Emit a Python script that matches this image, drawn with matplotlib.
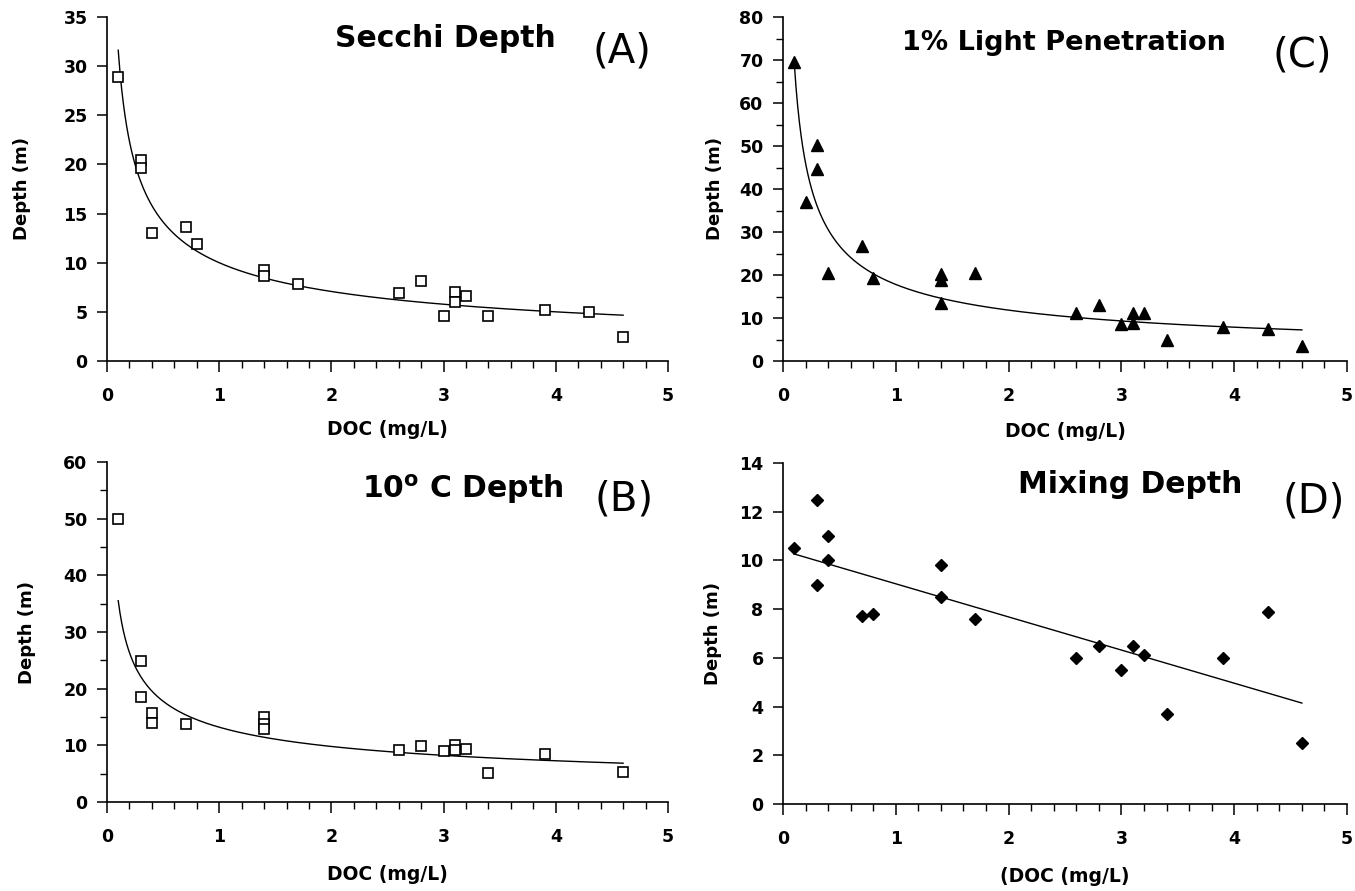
import numpy as np
import matplotlib.pyplot as plt
from matplotlib.ticker import MultipleLocator

plt.rcParams['font.family'] = ['DejaVu Sans']

# DOC (mg/L) for each lake and the measured depths (m)
doc_secchi = [0.1, 0.3, 0.3, 0.4, 0.7, 0.8, 1.4, 1.4, 1.7, 2.6, 2.8, 3.0, 3.1, 3.1, 3.2, 3.4, 3.9, 4.3, 4.6]
secchi = [28.9, 20.5, 19.6, 13.0, 13.6, 11.9, 9.3, 8.6, 7.8, 6.9, 8.1, 4.6, 7.0, 6.0, 6.6, 4.55, 5.2, 5.0, 2.45]

doc_light = [0.1, 0.2, 0.3, 0.3, 0.4, 0.7, 0.8, 1.4, 1.4, 1.4, 1.7, 2.6, 2.8, 3.0, 3.1, 3.1, 3.2, 3.4, 3.9, 4.3, 4.6]
light = [69.5, 37.0, 50.2, 44.6, 20.4, 26.7, 19.4, 20.2, 18.8, 13.6, 20.5, 11.1, 13.1, 8.5, 11.1, 8.9, 11.1, 4.9, 7.8, 7.4, 3.5]

doc_temp = [0.1, 0.3, 0.3, 0.4, 0.4, 0.7, 1.4, 1.4, 1.4, 2.6, 2.8, 3.0, 3.1, 3.1, 3.2, 3.4, 3.9, 4.6]
temp10 = [50.0, 24.9, 18.6, 15.7, 14.0, 13.7, 15.0, 13.8, 12.9, 9.2, 9.8, 9.0, 10.1, 9.2, 9.4, 5.2, 8.5, 5.3]

doc_mix = [0.1, 0.3, 0.3, 0.4, 0.4, 0.7, 0.8, 1.4, 1.4, 1.7, 2.6, 2.8, 3.0, 3.1, 3.2, 3.4, 3.9, 4.3, 4.6]
mixing = [10.5, 12.5, 9.0, 11.0, 10.0, 7.7, 7.8, 9.8, 8.5, 7.6, 6.0, 6.5, 5.5, 6.5, 6.1, 3.7, 6.0, 7.9, 2.5]

# trendline coefficients: power fits y = a * x**b, linear fit y = m*x + c
secchi_fit = (10.0, -0.50)
light_fit = (17.8, -0.59)
temp_fit = (13.2, -0.43)
mix_fit = (-1.36, 10.4)
fit_range = (0.1, 4.6)

W, H = 1355, 891


def box(left, top, right, bottom):
    return [left / W, 1 - bottom / H, (right - left) / W, (bottom - top) / H]


def style_axes(ax, ymax, ystep, yminor, ylab_x, xlab_y, xlabel='DOC (mg/L)'):
    ax.set_xlim(0, 5)
    ax.set_ylim(0, ymax)
    for side in ('top', 'right'):
        ax.spines[side].set_visible(False)
    for side in ('left', 'bottom'):
        ax.spines[side].set_linewidth(1.2)
    ax.xaxis.set_major_locator(MultipleLocator(1))
    ax.xaxis.set_minor_locator(MultipleLocator(0.2))
    ax.yaxis.set_major_locator(MultipleLocator(ystep))
    if yminor:
        ax.yaxis.set_minor_locator(MultipleLocator(yminor))
    ax.tick_params(axis='x', which='major', direction='out', length=8, width=1.1, pad=11, labelsize=12.5)
    ax.tick_params(axis='x', which='minor', direction='out', length=5, width=1)
    ax.tick_params(axis='y', which='major', direction='out', length=7, width=1.1, pad=7, labelsize=12.5)
    ax.tick_params(axis='y', which='minor', direction='out', length=5, width=1)
    for lab in ax.get_xticklabels() + ax.get_yticklabels():
        lab.set_fontweight('bold')
    ax.set_ylabel('Depth (m)', fontsize=13, fontweight='bold')
    ax.yaxis.set_label_coords(ylab_x, 0.5)
    ax.set_xlabel(xlabel, fontsize=13.5, fontweight='bold')
    ax.xaxis.set_label_coords(0.5, xlab_y)


def titles(fig, name, name_x, name_y, name_size, letter, letter_x, letter_y):
    fig.text(name_x / W, 1 - name_y / H, name, fontsize=name_size, fontweight='bold',
             ha='left', va='baseline')
    fig.text(letter_x / W, 1 - letter_y / H, letter, fontsize=29, ha='left', va='baseline')


fig = plt.figure(figsize=(13.55, 8.91), dpi=100)
xs = np.linspace(fit_range[0], fit_range[1], 300)

# (A) Secchi depth
ax = fig.add_axes(box(107, 17, 668, 361))
ax.plot(xs, secchi_fit[0] * xs ** secchi_fit[1], color='black', lw=1.0)
ax.plot(doc_secchi, secchi, 's', ms=7.5, mfc='white', mec='black', mew=1.2, clip_on=False)
style_axes(ax, 35, 5, None, -0.1355, -0.171)
titles(fig, 'Secchi Depth', 335, 47, 21.5, '(A)', 592, 62)

# (C) 1% light penetration
ax = fig.add_axes(box(783, 17, 1347, 361))
ax.plot(xs, light_fit[0] * xs ** light_fit[1], color='black', lw=1.0)
ax.plot(doc_light, light, '^', ms=8.5, color='black', clip_on=False)
style_axes(ax, 80, 10, 5, -0.105, -0.177)
titles(fig, '1% Light Penetration', 902, 50, 19.5, '(C)', 1273, 66)

# (B) 10 degree isotherm depth
ax = fig.add_axes(box(107, 462, 668, 802))
ax.plot(xs, temp_fit[0] * xs ** temp_fit[1], color='black', lw=1.0)
ax.plot(doc_temp, temp10, 's', ms=7.5, mfc='white', mec='black', mew=1.2, clip_on=False)
style_axes(ax, 60, 10, 5, -0.127, -0.185)
titles(fig, r'10$^{\mathbf{o}}$ C Depth', 362, 498, 21.5, '(B)', 595, 511)

# (D) mixing depth
ax = fig.add_axes(box(783, 463, 1347, 804))
ax.plot(xs, mix_fit[0] * xs + mix_fit[1], color='black', lw=1.0)
ax.plot(doc_mix, mixing, 'D', ms=6, color='black', clip_on=False)
style_axes(ax, 14, 2, None, -0.108, -0.185, xlabel='(DOC (mg/L)')
titles(fig, 'Mixing Depth', 1018, 493, 21.5, '(D)', 1282, 512)

fig.savefig('out.png', dpi=100)
